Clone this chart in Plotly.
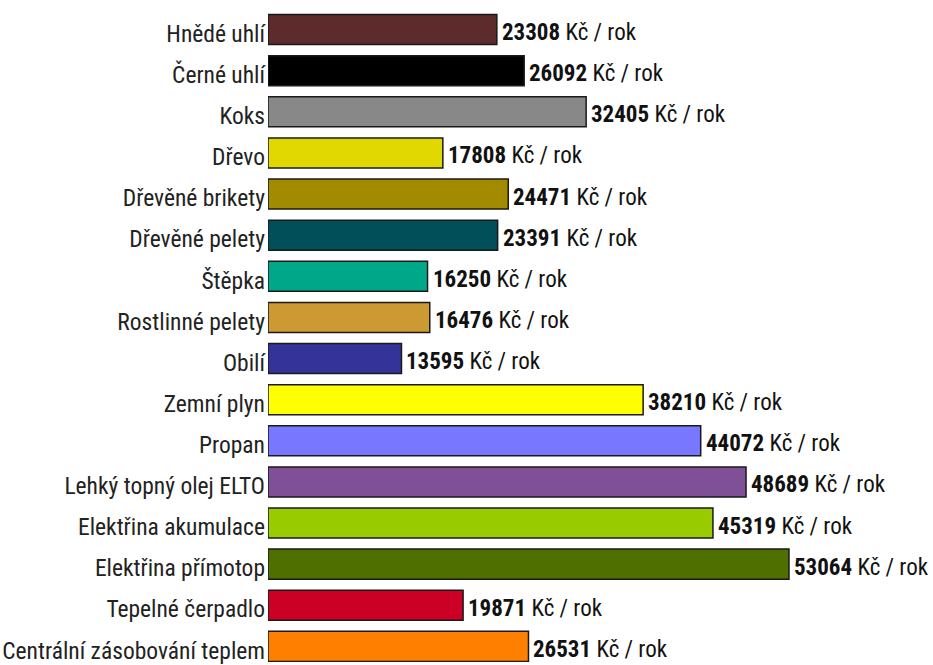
import plotly.graph_objects as go

categories = [
    "Hnědé uhlí", "Černé uhlí", "Koks", "Dřevo", "Dřevěné brikety",
    "Dřevěné pelety", "Štěpka", "Rostlinné pelety", "Obilí", "Zemní plyn",
    "Propan", "Lehký topný olej ELTO", "Elektřina akumulace",
    "Elektřina přímotop", "Tepelné čerpadlo", "Centrální zásobování teplem",
]
values = [23308, 26092, 32405, 17808, 24471, 23391, 16250, 16476, 13595,
          38210, 44072, 48689, 45319, 53064, 19871, 26531]
colors = ["#5E2B2D", "#000000", "#888888", "#E0D800", "#A38B00", "#004F59",
          "#00A88A", "#CC9933", "#333399", "#FFFF00", "#7777FF", "#7F4F97",
          "#99CC00", "#4F6F00", "#CC0025", "#FF8000"]
unit = "Kč / rok"

FONT = "Roboto Condensed, Liberation Sans Narrow, sans-serif"

fig = go.Figure(go.Bar(
    y=categories, x=values, orientation="h",
    marker=dict(color=colors, line=dict(color="#1a1a1a", width=1.5)),
    hoverinfo="skip",
))

for cat, v in zip(categories, values):
    fig.add_annotation(
        x=v, y=cat, xref="x", yref="y", text=f"<b>{v}</b> {unit}",
        showarrow=False, xanchor="left", yanchor="middle",
        xshift=3, yshift=-3,
        font=dict(family=FONT, size=23, color="#111111"),
    )

fig.update_layout(
    width=933, height=665,
    margin=dict(l=268, r=0, t=9, b=0),
    paper_bgcolor="white", plot_bgcolor="white",
    bargap=0.27, showlegend=False,
    xaxis=dict(range=[0, 67733], visible=False, showgrid=False, zeroline=False),
    yaxis=dict(range=[15.38, -0.5], showgrid=False, zeroline=False,
               showline=False, ticks="", ticklabelstandoff=2,
               ticklabelshift=-4,
               tickfont=dict(family=FONT, size=23.5, color="#222222")),
    font=dict(family=FONT),
)

fig.write_html("out.html")
